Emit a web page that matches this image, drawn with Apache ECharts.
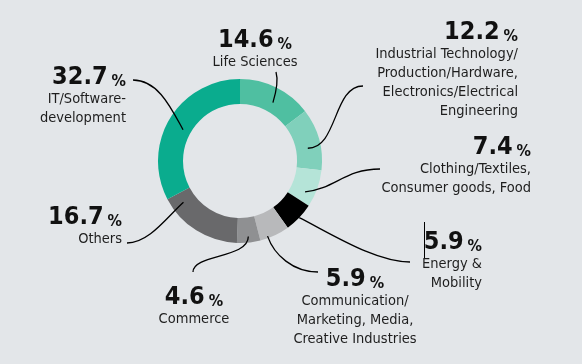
<!DOCTYPE html>
<html><head><meta charset="utf-8">
<script src="https://cdn.jsdelivr.net/npm/echarts@6/dist/echarts.min.js"></script>
<style>html,body{margin:0;padding:0;background:#e3e6e9}#c{width:582px;height:364px}</style>
</head><body><div id="c"></div>
<script>
const categories = ['Life Sciences', 'Industrial Technology/\nProduction/Hardware,\nElectronics/Electrical\nEngineering', 'Clothing/Textiles,\nConsumer goods, Food', 'Energy &\nMobility', 'Communication/\nMarketing, Media,\nCreative Industries', 'Commerce', 'Others', 'IT/Software-\ndevelopment'];
const values = [14.6, 12.2, 7.4, 5.9, 5.9, 4.6, 16.7, 32.7];
const colors = ['#4fbfa1', '#80d0bb', '#b5e4d8', '#000000', '#b8b9bb', '#8f9092', '#69696b', '#0aac8e'];

// layout only: label anchor, leader start point, tangents, anchor position inside slice
const CX = 240, CY = 161, R0 = 57, R1 = 82;
const labelPos = [
  {x: 255, y: 25, align: 'center'},
  {x: 518, y: 17, align: 'right'},
  {x: 531, y: 132, align: 'right'},
  {x: 482, y: 227, align: 'right'},
  {x: 355, y: 264, align: 'center'},
  {x: 194, y: 282, align: 'center'},
  {x: 122, y: 202, align: 'right'},
  {x: 126, y: 62, align: 'right'}
];
const leader = [
  {sx: 276, sy: 72,  d0: [0.3, 1],  d1: [-0.3, 1], k0: 10, k1: 10, frac: 0.56, r: 67},
  {sx: 363, sy: 86,  d0: [-1, 0],   d1: [-1, 0],   k0: 30, k1: 30, frac: 0.61, r: 69},
  {sx: 380, sy: 169, d0: [-1, 0],   d1: [-1, 0.1], k0: 35, k1: 30, frac: 0.71, r: 72},
  {sx: 410, sy: 262, d0: [-1, 0],   d1: [-1, -0.5],k0: 35, k1: 35, frac: 0.5,  r: 82},
  {sx: 318, sy: 272, d0: [-1, 0],   d1: [-0.35, -1],k0: 25, k1: 20, frac: 0.73, r: 80},
  {sx: 193, sy: 272, d0: [0, -1],   d1: [0, -1],   k0: 18, k1: 22, frac: 0.49, r: 76},
  {sx: 127, sy: 243, d0: [1, 0],    d1: [1, -0.9], k0: 22, k1: 22, frac: 0.86, r: 70},
  {sx: 133, sy: 80,  d0: [1, 0],    d1: [0.55, 1], k0: 25, k1: 25, frac: 0.48, r: 65}
];

const total = values.reduce((a, b) => a + b, 0);
const curves = [];
let cum = 0;
values.forEach((v, i) => {
  const L = leader[i];
  const ang = (cum + v * L.frac) / total * Math.PI * 2; // clockwise from top
  cum += v;
  const ax = CX + L.r * Math.sin(ang), ay = CY - L.r * Math.cos(ang);
  const n0 = Math.hypot(L.d0[0], L.d0[1]), n1 = Math.hypot(L.d1[0], L.d1[1]);
  curves.push({
    type: 'bezierCurve', silent: true, z: 10,
    shape: {
      x1: L.sx, y1: L.sy,
      cpx1: L.sx + L.d0[0] / n0 * L.k0, cpy1: L.sy + L.d0[1] / n0 * L.k0,
      cpx2: ax - L.d1[0] / n1 * L.k1, cpy2: ay - L.d1[1] / n1 * L.k1,
      x2: ax, y2: ay
    },
    style: {stroke: '#000', lineWidth: 1.3, fill: null}
  });
});
curves.push({type: 'line', silent: true, shape: {x1: 424.5, y1: 222, x2: 424.5, y2: 258}, style: {stroke: '#000', lineWidth: 1}});

const FONT = '"DejaVu Sans Condensed", "Liberation Sans Narrow", "Roboto", sans-serif';
const chart = echarts.init(document.getElementById('c'));
chart.setOption({
  backgroundColor: '#e3e6e9',
  animation: false,
  graphic: curves,
  series: [{
    type: 'pie',
    center: [CX, CY],
    radius: [R0, R1],
    startAngle: 90,
    clockwise: true,
    avoidLabelOverlap: false,
    data: categories.map((c, i) => ({name: c, value: values[i], itemStyle: {color: colors[i]}})),
    label: {
      show: true,
      formatter: p => '{v|' + p.value.toFixed(1) + '}{p|%}\n{n|' + p.name + '}',
      fontFamily: FONT,
      rich: {
        v: {fontFamily: FONT, fontSize: 25, fontWeight: 'bold', color: '#111', lineHeight: 28, verticalAlign: 'bottom'},
        p: {fontFamily: FONT, fontSize: 16, fontWeight: 'bold', color: '#111', lineHeight: 22, verticalAlign: 'bottom', padding: [0, 0, 0, 4]},
        n: {fontFamily: FONT, fontSize: 14.5, color: '#1e1e1e', lineHeight: 19}
      }
    },
    labelLine: {show: false},
    labelLayout: params => {
      const l = labelPos[params.dataIndex];
      return {x: l.x, y: l.y, align: l.align, verticalAlign: 'top'};
    }
  }]
});
</script></body></html>
